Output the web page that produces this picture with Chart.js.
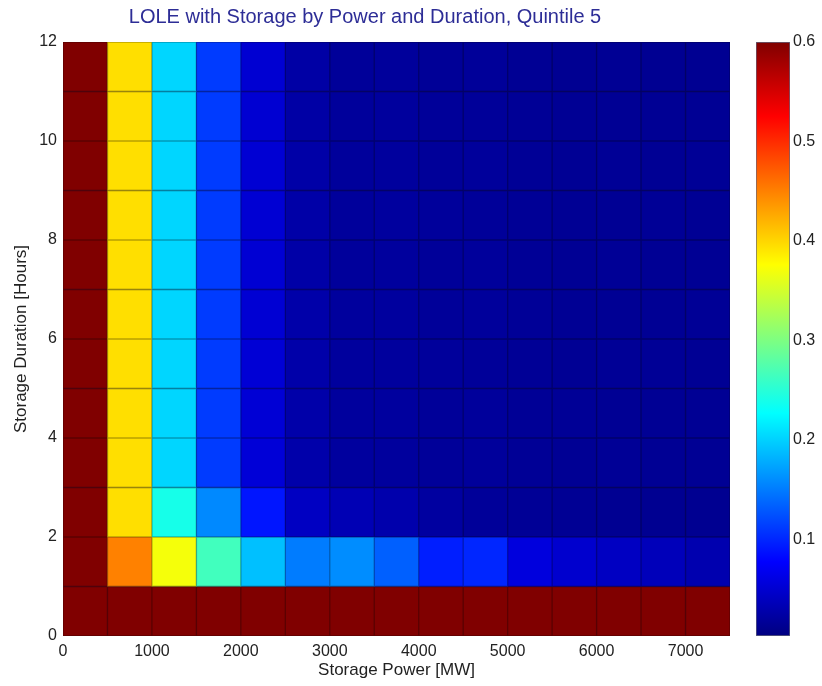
<!DOCTYPE html>
<html><head><meta charset="utf-8">
<script src="https://cdn.jsdelivr.net/npm/chart.js@4.4.0/dist/chart.umd.min.js"></script>
<style>
html,body{margin:0;padding:0;background:#fff;}
#wrap{position:relative;width:822px;height:686px;overflow:hidden;}
#main{position:absolute;left:0;top:0;}
#cbar{position:absolute;left:740px;top:0;}
</style></head><body>
<div id="wrap"><canvas id="main" width="822" height="686"></canvas><canvas id="cbar" width="82" height="686"></canvas></div>
<script>
// ---- data ----
const powerBins = [0, 500, 1000, 1500, 2000, 2500, 3000, 3500, 4000, 4500, 5000, 5500, 6000, 6500, 7000]; // bin start, MW
const powerBinWidth = 500;
const durationBins = [0, 1, 2, 3, 4, 5, 6, 7, 8, 9, 10, 11]; // bin start, hours
const durationBinWidth = 1;
const xTickLabels = [0, 1000, 2000, 3000, 4000, 5000, 6000, 7000];
const yTickLabels = [0, 2, 4, 6, 8, 10, 12];
const cbTickLabels = [0.1, 0.2, 0.3, 0.4, 0.5, 0.6];
const cMin = 0.003, cMax = 0.6;

const lole_0_1h   = [0.6, 0.6, 0.6, 0.6, 0.6, 0.6, 0.6, 0.6, 0.6, 0.6, 0.6, 0.6, 0.6, 0.6, 0.6];
const lole_1_2h   = [0.6, 0.45, 0.37, 0.265, 0.19, 0.15, 0.16, 0.134, 0.095, 0.1, 0.058, 0.049, 0.042, 0.037, 0.031];
const lole_2_3h   = [0.6, 0.395, 0.24, 0.158, 0.09, 0.042, 0.034, 0.029, 0.022, 0.018, 0.016, 0.015, 0.014, 0.013, 0.013];
const lole_3_4h   = [0.6, 0.395, 0.203, 0.112, 0.054, 0.028, 0.021, 0.02, 0.018, 0.019, 0.016, 0.015, 0.016, 0.015, 0.015];
const lole_4_5h   = [0.6, 0.395, 0.203, 0.112, 0.053, 0.027, 0.02, 0.021, 0.018, 0.019, 0.016, 0.016, 0.015, 0.015, 0.015];
const lole_5_6h   = [0.6, 0.395, 0.203, 0.112, 0.053, 0.027, 0.02, 0.02, 0.019, 0.018, 0.016, 0.015, 0.016, 0.016, 0.015];
const lole_6_7h   = [0.6, 0.395, 0.203, 0.112, 0.052, 0.027, 0.02, 0.021, 0.018, 0.019, 0.017, 0.015, 0.015, 0.015, 0.016];
const lole_7_8h   = [0.6, 0.395, 0.203, 0.112, 0.052, 0.026, 0.019, 0.02, 0.018, 0.019, 0.016, 0.015, 0.016, 0.015, 0.015];
const lole_8_9h   = [0.6, 0.395, 0.203, 0.112, 0.052, 0.026, 0.019, 0.021, 0.019, 0.018, 0.016, 0.015, 0.015, 0.016, 0.015];
const lole_9_10h  = [0.6, 0.395, 0.203, 0.112, 0.052, 0.026, 0.019, 0.02, 0.018, 0.019, 0.016, 0.015, 0.016, 0.015, 0.016];
const lole_10_11h = [0.6, 0.395, 0.203, 0.112, 0.051, 0.025, 0.019, 0.02, 0.018, 0.018, 0.016, 0.015, 0.015, 0.015, 0.015];
const lole_11_12h = [0.6, 0.395, 0.203, 0.112, 0.051, 0.025, 0.018, 0.019, 0.017, 0.018, 0.015, 0.014, 0.015, 0.014, 0.014];
const loleRows = [lole_0_1h, lole_1_2h, lole_2_3h, lole_3_4h, lole_4_5h, lole_5_6h, lole_6_7h, lole_7_8h, lole_8_9h, lole_9_10h, lole_10_11h, lole_11_12h];

// ---- jet colormap ----
function clamp01(v){ return Math.max(0, Math.min(1, v)); }
function jetRGB(t){
  t = clamp01(t);
  return [clamp01(1.5 - Math.abs(4*t - 3)), clamp01(1.5 - Math.abs(4*t - 2)), clamp01(1.5 - Math.abs(4*t - 1))].map(c => Math.round(c*255));
}
function jetColor(v, k){
  const [r,g,b] = jetRGB((v - cMin) / (cMax - cMin)).map(c => Math.round(c * (k || 1)));
  return `rgb(${r},${g},${b})`;
}

const cells = [], cellColors = [], cellEdges = [];
durationBins.forEach((d, ri) => {
  powerBins.forEach((p, ci) => {
    const v = loleRows[ri][ci];
    cells.push({x: p + powerBinWidth/2, y: [d, d + durationBinWidth]});
    cellColors.push(jetColor(v));
    cellEdges.push(jetColor(v, 0.72));
  });
});

const FONT = "'Liberation Sans', Arial, Helvetica, sans-serif";

const plotBackdrop = {
  id: 'plotBackdrop',
  beforeDatasetsDraw(chart) {
    const {ctx, chartArea: a} = chart;
    ctx.save();
    ctx.fillStyle = 'rgb(25,15,60)';
    ctx.fillRect(a.left, a.top, a.right - a.left, a.bottom - a.top);
    ctx.restore();
  }
};

new Chart(document.getElementById('main'), {
  type: 'bar',
  data: { datasets: [{
    data: cells,
    backgroundColor: cellColors,
    borderColor: cellEdges,
    borderWidth: 1,
    borderSkipped: false,
    barPercentage: 1,
    categoryPercentage: 1
  }]},
  plugins: [plotBackdrop],
  options: {
    responsive: false, animation: false, devicePixelRatio: 1,
    layout: { padding: { left: 0, right: 92, top: 0, bottom: 0 } },
    plugins: {
      legend: { display: false }, tooltip: { enabled: false },
      title: { display: true, text: 'LOLE with Storage by Power and Duration, Quintile 5',
        color: 'rgb(45,45,150)', font: { family: FONT, size: 20, weight: 'normal' },
        padding: { top: 5, bottom: 13 } }
    },
    scales: {
      x: {
        type: 'linear', min: 0, max: 7500, offset: false,
        grid: { display: false, drawTicks: false, offset: false }, border: { display: false },
        ticks: { color: '#222', font: { family: FONT, size: 16 }, padding: 6, maxRotation: 0, autoSkip: false,
          callback: v => String(v) },
        afterBuildTicks: s => { s.ticks = xTickLabels.map(v => ({ value: v })); },
        afterFit: s => { s.height = 50; },
        title: { display: true, text: 'Storage Power [MW]', color: '#222', font: { family: FONT, size: 17 }, padding: { top: 0, bottom: 5 } }
      },
      y: {
        type: 'linear', min: 0, max: 12,
        grid: { display: false, drawTicks: false }, border: { display: false },
        ticks: { color: '#222', font: { family: FONT, size: 16 }, padding: 6, autoSkip: false,
          callback: v => String(v) },
        afterBuildTicks: s => { s.ticks = yTickLabels.map(v => ({ value: v })); },
        afterFit: s => { s.width = 63; },
        title: { display: true, text: 'Storage Duration [Hours]', color: '#222', font: { family: FONT, size: 17 }, padding: { top: 11, bottom: 0 } }
      }
    }
  }
});

const jetStops = [0, 0.125, 0.375, 0.625, 0.875, 1];
new Chart(document.getElementById('cbar'), {
  type: 'bar',
  data: { labels: [''], datasets: [{
    data: [[cMin, cMax]],
    backgroundColor: (c) => {
      const ch = c.chart;
      if (!ch.chartArea) return '#000';
      const ys = ch.scales.y;
      const g = ch.ctx.createLinearGradient(0, ys.getPixelForValue(cMin), 0, ys.getPixelForValue(cMax));
      jetStops.forEach(s => { const [r,gg,b] = jetRGB(s); g.addColorStop(s, `rgb(${r},${gg},${b})`); });
      return g;
    },
    borderColor: 'rgba(60,60,90,0.8)', borderWidth: 1, borderSkipped: false,
    barPercentage: 1, categoryPercentage: 1
  }]},
  options: {
    responsive: false, animation: false, devicePixelRatio: 1,
    layout: { padding: { left: 16, right: 0, top: 42, bottom: 50 } },
    plugins: { legend: { display: false }, tooltip: { enabled: false } },
    scales: {
      x: { display: false },
      y: {
        position: 'right', min: cMin, max: cMax,
        grid: { display: false, drawTicks: false }, border: { display: false },
        ticks: { color: '#222', font: { family: FONT, size: 16 }, padding: 3, autoSkip: false },
        afterBuildTicks: s => { s.ticks = cbTickLabels.map(v => ({ value: v })); },
        afterFit: s => { s.width = 32; }
      }
    }
  }
});
</script>
</body></html>
